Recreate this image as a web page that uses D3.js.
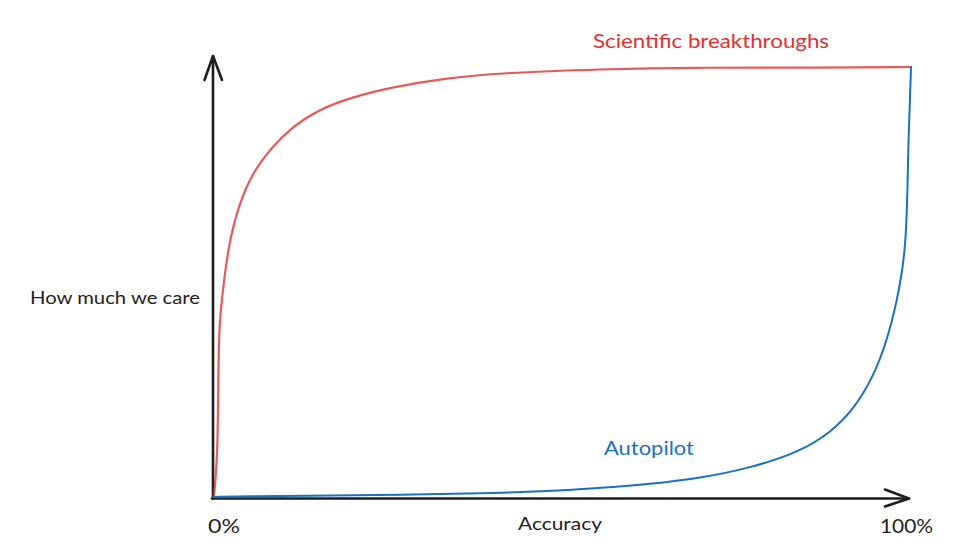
<!DOCTYPE html>
<html>
<head>
<meta charset="utf-8">
<script src="https://cdn.jsdelivr.net/npm/d3@7"></script>
<style>
  html,body{margin:0;padding:0;background:#fff;}
  svg{display:block;}
  text{font-family:"Lato","Open Sans",sans-serif;}
</style>
</head>
<body>
<svg id="svg" width="975" height="559"></svg>
<script>
// accuracy (%) vs how much we care (0-100)
const scienceX = [0.1, 0.3, 0.67, 0.76, 0.86, 1.25, 2.15, 3.58, 5.59, 8.45, 11.3, 15.0, 19.9, 25.6, 33.2, 41.1, 55.4, 69.8, 84.1, 100];
const scienceY = [0, 2.3, 11.6, 27.2, 38.8, 45.8, 58.1, 67.4, 75.3, 81.4, 86.0, 90.0, 93.0, 95.3, 97.4, 98.6, 99.5, 99.9, 99.8, 100];

const autoX = [0.1, 5, 12.5, 26.8, 41.1, 50, 55.4, 62.6, 69.8, 76.9, 84.1, 88.4, 91.7, 94.6, 96.6, 98.0, 98.6, 99.2, 99.5, 99.6, 99.9, 100];
const autoY = [0, 0.2, 0.3, 0.5, 0.9, 1.5, 2.1, 3.0, 4.4, 6.7, 10.5, 14.9, 20.2, 27.9, 36.5, 45.8, 51.2, 58.1, 70.2, 82.1, 94.4, 100];

const xTickLabels = ["0%", "100%"];
const axisTitles = {x: "Accuracy", y: "How much we care"};
const seriesNames = ["Scientific breakthroughs", "Autopilot"];

const ink = "#1e1e1e";
const red = "#e03131";
const blue = "#1971c2";

const svg = d3.select("#svg");

const x = d3.scaleLinear().domain([0, 100]).range([213, 911]);
const y = d3.scaleLinear().domain([0, 100]).range([497, 67]);

// axes with arrowheads
const x0 = x(0), y0 = y(0) + 1.5;
const yTop = 56, xEnd = 909;
const gAxes = svg.append("g")
  .attr("fill","none")
  .attr("stroke", ink)
  .attr("stroke-width", 2.6)
  .attr("stroke-linecap","round")
  .attr("stroke-linejoin","round");

gAxes.append("path").attr("d", `M${x0},${y0} L${x0},${yTop}`);
gAxes.append("path").attr("d", `M${x0-8.5},${yTop+24} L${x0},${yTop} L${x0+9},${yTop+24}`);
gAxes.append("path").attr("d", `M${x0-1},${y0} L${xEnd},${y0}`);
gAxes.append("path").attr("d", `M${xEnd-24},${y0-9} L${xEnd},${y0} L${xEnd-24},${y0+8}`);

// curves
const line = d3.line()
  .x(d=>x(d[0]))
  .y(d=>y(d[1]))
  .curve(d3.curveBasis);

svg.append("path")
  .datum(d3.zip(scienceX, scienceY))
  .attr("d", line)
  .attr("fill","none")
  .attr("stroke", red)
  .attr("stroke-opacity", 0.8)
  .attr("stroke-width", 2.2)
  .attr("stroke-linecap","round");

svg.append("path")
  .datum(d3.zip(autoX, autoY))
  .attr("d", line)
  .attr("fill","none")
  .attr("stroke", blue)
  .attr("stroke-width", 2)
  .attr("stroke-linecap","round");

// labels
function label(txt, px, py, size, color, width){
  const t = svg.append("text")
    .attr("x", px).attr("y", py)
    .attr("font-size", size)
    .attr("fill", color)
    .text(txt);
  if(width) t.attr("textLength", width).attr("lengthAdjust","spacingAndGlyphs");
  return t;
}

label(seriesNames[0], 593, 48, 20, red, 236);
label(seriesNames[1], 604, 455, 20, blue, 90);
label(axisTitles.y, 30, 304, 17, ink, 170);
label(axisTitles.x, 518, 530, 17, ink, 84);
label(xTickLabels[0], 208, 533, 19, ink, 32);
label(xTickLabels[1], 880, 533, 19, ink, 53);
</script>
</body>
</html>
